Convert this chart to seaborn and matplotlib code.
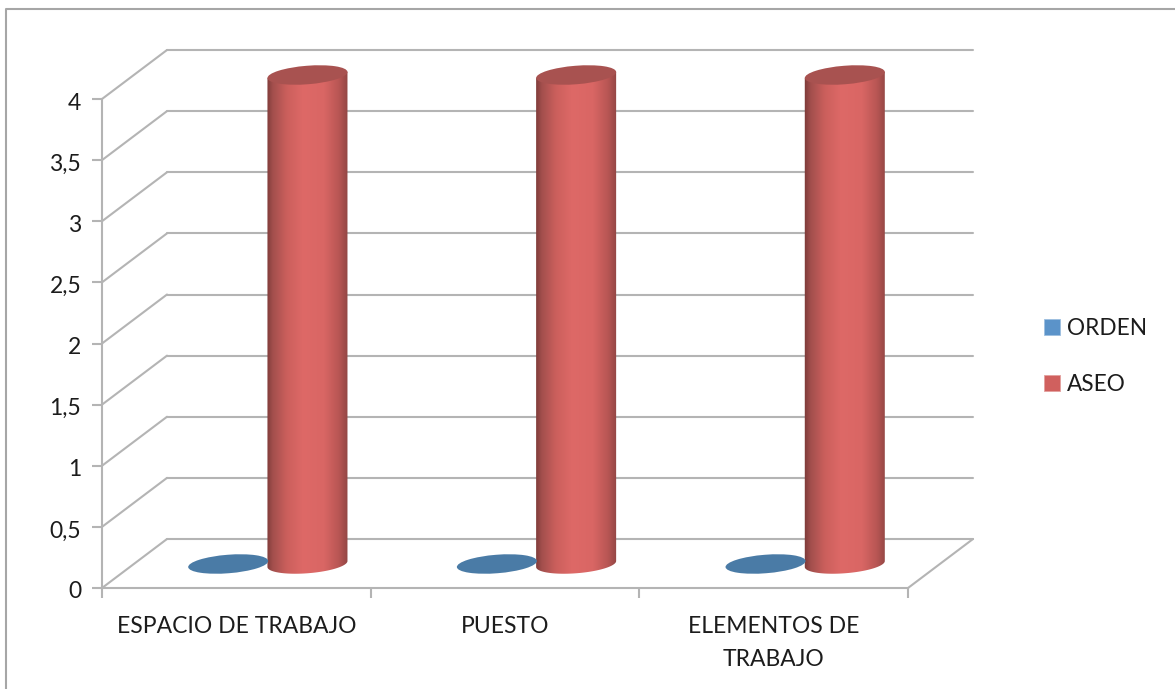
import numpy as np
import pandas as pd
import matplotlib
matplotlib.use("Agg")
import matplotlib.pyplot as plt
import seaborn as sns
from matplotlib.lines import Line2D
from matplotlib.patches import Ellipse, Patch, PathPatch
from matplotlib.path import Path
from matplotlib.colors import LinearSegmentedColormap
from matplotlib.transforms import IdentityTransform, ScaledTranslation

categories = ["ESPACIO DE TRABAJO", "PUESTO", "ELEMENTOS DE\nTRABAJO"]
orden = [0, 0, 0]
aseo = [4, 4, 4]
series_names = ["ORDEN", "ASEO"]
y_ticks = [0, 0.5, 1, 1.5, 2, 2.5, 3, 3.5, 4]
y_labels = ["0", "0,5", "1", "1,5", "2", "2,5", "3", "3,5", "4"]

W, H, DPI = 1175, 689, 100
GRID = "#B4B4B4"
DEPTH = (65, 49)          # depth of the wall in pixels
BAR_SHIFT = (31.5, 24)    # bars stand mid-way into the floor
TILT = 4.5
ELL_H = 18.5

sns.set_theme(style="white")
plt.rcParams["font.family"] = ["Lato", "DejaVu Sans"]

df = pd.DataFrame({
    "cat": categories * 2,
    "val": orden + aseo,
    "serie": [series_names[0]] * 3 + [series_names[1]] * 3,
})

fig = plt.figure(figsize=(W / DPI, H / DPI), dpi=DPI, facecolor="white")
ax = fig.add_axes([102 / W, (H - 588) / H, (908 - 102) / W, (588 - 99) / H])
sns.barplot(data=df, x="cat", y="val", hue="serie", hue_order=series_names,
            order=categories, palette=["#4A7BA6", "#DB6664"], width=0.59,
            gap=0, legend=False, ax=ax, zorder=3, saturation=1)
ax.set_xlim(-0.5, 2.5)
ax.set_ylim(0, 4)
ax.set_xlabel("")
ax.set_ylabel("")
ax.patch.set_alpha(0)

# axes
for s in ["top", "right"]:
    ax.spines[s].set_visible(False)
for s in ["left", "bottom"]:
    ax.spines[s].set_color(GRID)
    ax.spines[s].set_linewidth(1.5)
ax.set_yticks(y_ticks, y_labels)
ax.set_xticks([0, 1, 2], categories, linespacing=1.7)
ax.set_xticks([-0.5, 0.5, 1.5, 2.5], minor=True)
ax.tick_params(axis="x", which="major", length=0, pad=20, labelsize=16.5, labelcolor="#1c1c1c")
ax.tick_params(axis="x", which="minor", length=7, width=1.5, color=GRID, bottom=True)
ax.tick_params(axis="y", length=7, width=1.5, color=GRID, left=True, pad=8,
               labelsize=16.5, labelcolor="#1c1c1c")
down = ScaledTranslation(0, -2 / DPI, fig.dpi_scale_trans)
for lab in ax.get_yticklabels():
    lab.set_transform(lab.get_transform() + down)

ident = IdentityTransform()
def px(x, y):
    return ax.transData.transform((x, y))

# back wall, side wall and floor
for v in y_ticks:
    x0, y0 = px(-0.5, v)
    x1, y1 = px(2.5, v)
    ax.add_line(Line2D([x0, x0 + DEPTH[0]], [y0, y0 + DEPTH[1]], color=GRID, lw=1.5,
                       transform=ident, clip_on=False, zorder=1))
    ax.add_line(Line2D([x0 + DEPTH[0], x1 + DEPTH[0]], [y0 + DEPTH[1], y1 + DEPTH[1]],
                       color=GRID, lw=1.5, transform=ident, clip_on=False, zorder=1))
x0, y0 = px(2.5, 0)
ax.add_line(Line2D([x0, x0 + DEPTH[0]], [y0, y0 + DEPTH[1]], color=GRID, lw=1.5,
                   transform=ident, clip_on=False, zorder=1))

# cylinders built on the bars seaborn drew
cmap = LinearSegmentedColormap.from_list("cyl", [
    (0.00, "#7A3836"), (0.08, "#A24F4D"), (0.25, "#CB5F5C"), (0.45, "#DE6967"),
    (0.70, "#D96664"), (0.88, "#B85654"), (1.00, "#8E4442")])
grad = np.linspace(0, 1, 256).reshape(1, -1)
top_colors = ["#4A7BA6", "#A85250"]
offset = ScaledTranslation(BAR_SHIFT[0] / DPI, BAR_SHIFT[1] / DPI, fig.dpi_scale_trans)

for cont, top_col in zip(ax.containers, top_colors):
    for bar in cont:
        xa, yb = px(bar.get_x(), 0)
        xb, yt = px(bar.get_x() + bar.get_width(), bar.get_height())
        bar.set_transform(ax.transData + offset)
        bar.set_clip_on(False)
        xa, xb = xa + BAR_SHIFT[0], xb + BAR_SHIFT[0]
        yb, yt = yb + BAR_SHIFT[1], yt + BAR_SHIFT[1]
        cx = (xa + xb) / 2
        a, b = (xb - xa) / 2 + 0.5, ELL_H / 2
        th = np.radians(TILT)
        if bar.get_height() > 0:
            t = np.linspace(0, np.pi, 60) + np.pi
            ex = a * np.cos(t) * np.cos(th) - b * np.sin(t) * np.sin(th)
            ey = a * np.cos(t) * np.sin(th) + b * np.sin(t) * np.cos(th)
            vx = np.r_[cx - a * np.cos(th), cx + ex, cx + a * np.cos(th), cx - a * np.cos(th)]
            vy = np.r_[yt - a * np.sin(th), yb + ey, yt + a * np.sin(th), yt - a * np.sin(th)]
            clip = PathPatch(Path(np.c_[vx, vy]), transform=ident, fc="none", ec="none")
            ax.add_patch(clip)
            im = ax.imshow(grad, cmap=cmap, aspect="auto", zorder=3.2, vmin=0, vmax=1,
                           extent=(cx - a - 1, cx + a + 1, yb - 30, yt + 20),
                           transform=ident)
            im.set_clip_box(fig.bbox)
            im.set_clip_path(clip)
            bar.set_visible(False)
        ax.add_patch(Ellipse((cx, yt), 2 * a, 2 * b, angle=TILT, fc=top_col, ec="none",
                             transform=ident, zorder=3.4, clip_on=False))
ax.set_xlim(-0.5, 2.5)
ax.set_ylim(0, 4)

# legend
handles = [Patch(fc="#5B93C9", ec="#9DBFE0", lw=0.6), Patch(fc="#D0605E", ec="#E3A09E", lw=0.6)]
fig.legend(handles, series_names, loc="center left", frameon=False,
           bbox_to_anchor=(1044 / W, 1 - 356.5 / H), bbox_transform=fig.transFigure,
           handlelength=0.7, handleheight=0.7, handletextpad=0.3, labelspacing=1.55,
           fontsize=16.3, labelcolor="#1c1c1c", borderpad=0, borderaxespad=0)

# outer frame (left and top edges)
fig.add_artist(Line2D([6 / W, 6 / W, 1], [0, 1 - 9 / H, 1 - 9 / H], color="#A6A6A6", lw=1.5,
                      transform=fig.transFigure))

fig.savefig("out.png", dpi=DPI)
